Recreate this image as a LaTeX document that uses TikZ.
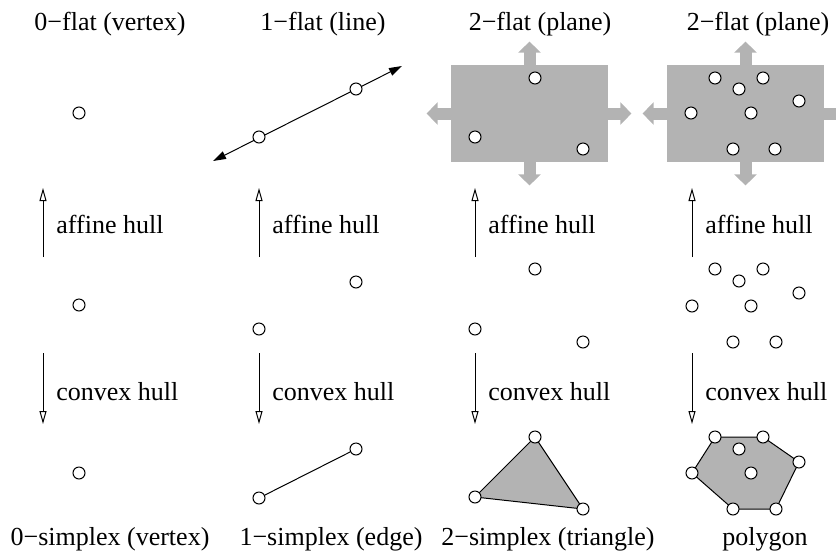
\documentclass[tikz,border=0pt]{standalone}
\usepackage{fontspec}
\setmainfont{Liberation Serif}
\usetikzlibrary{arrows.meta,backgrounds}
\definecolor{flatgray}{RGB}{179,179,179}
\begin{document}
\begin{tikzpicture}[x=0.5pt,y=-0.5pt]
        \tikzset{
        hull node/.style={circle,draw,fill=white,minimum size=6pt,inner sep=0,line width=0.5pt},
        hull label/.style={anchor=base west,inner sep=0,font=\fontsize{13}{15}\selectfont},
        title label/.style={anchor=base,inner sep=0,font=\fontsize{13}{15}\selectfont},
        hull arrow/.style={line width=0.5pt,-{Triangle[open,length=6.5pt,width=3.5pt]}},
        line arrow/.style={line width=0.5pt,{Triangle[length=6.5pt,width=4pt]}-{Triangle[length=6.5pt,width=4pt]}},
        flat node/.style={fill=flatgray,minimum width=78.5pt,minimum height=48.5pt,inner sep=0},
        flat arrow/.style={flatgray,line width=6pt,-{Triangle[length=5.5pt,width=11pt]}}
        }
        \useasboundingbox (0,0) rectangle (836,553);

        % titles
        \node[title label] (f0) at (110,30) {0−flat (vertex)};
        \node[title label] (f1) at (323,30) {1−flat (line)};
        \node[title label] (f2) at (540,30) {2−flat (plane)};
        \node[title label] (f3) at (758,30) {2−flat (plane)};
        \node[title label] (s0) at (110,545) {0−simplex (vertex)};
        \node[title label] (s1) at (331,545) {1−simplex (edge)};
        \node[title label] (s2) at (548,545) {2−simplex (triangle)};
        \node[title label] (s3) at (765,545) {polygon};

        % planes
        \node[flat node] (p3) at (529.5,113.5) {};
        \node[flat node] (p4) at (745.5,113.5) {};
        \draw[flat arrow] (p3.north) -- ++(0,-23);
        \draw[flat arrow] (p3.south) -- ++(0,23);
        \draw[flat arrow] (p3.west) -- ++(-24,0);
        \draw[flat arrow] (p3.east) -- ++(23,0);
        \draw[flat arrow] (p4.north) -- ++(0,-23);
        \draw[flat arrow] (p4.south) -- ++(0,23);
        \draw[flat arrow] (p4.west) -- ++(-24,0);
        \draw[flat arrow] (p4.east) -- ++(23,0);

        % line
        \coordinate (le1) at (213,161);
        \coordinate (le2) at (402,66);
        \draw[line arrow] (le1) -- (le2);

        % hull arrows
        \coordinate (ua1) at (43,257);  \coordinate (ub1) at (43,188);
        \coordinate (ua2) at (259,257); \coordinate (ub2) at (259,188);
        \coordinate (ua3) at (475,257); \coordinate (ub3) at (475,188);
        \coordinate (ua4) at (692,257); \coordinate (ub4) at (692,188);
        \coordinate (da1) at (43,353);  \coordinate (db1) at (43,424);
        \coordinate (da2) at (259,353); \coordinate (db2) at (259,424);
        \coordinate (da3) at (475,353); \coordinate (db3) at (475,424);
        \coordinate (da4) at (692,353); \coordinate (db4) at (692,424);
        \path[draw]
        (ua1) edge[hull arrow] (ub1)
        (ua2) edge[hull arrow] (ub2)
        (ua3) edge[hull arrow] (ub3)
        (ua4) edge[hull arrow] (ub4)
        (da1) edge[hull arrow] (db1)
        (da2) edge[hull arrow] (db2)
        (da3) edge[hull arrow] (db3)
        (da4) edge[hull arrow] (db4)
        ;
        \node[hull label] (ah1) at (56,233) {affine hull};
        \node[hull label] (ah2) at (272,233) {affine hull};
        \node[hull label] (ah3) at (488,233) {affine hull};
        \node[hull label] (ah4) at (705,233) {affine hull};
        \node[hull label] (ch1) at (56,400) {convex hull};
        \node[hull label] (ch2) at (272,400) {convex hull};
        \node[hull label] (ch3) at (488,400) {convex hull};
        \node[hull label] (ch4) at (705,400) {convex hull};

        % flats
        \node[hull node] (a1) at (79,113) {};
        \node[hull node] (b1) at (259,137) {};
        \node[hull node] (b2) at (356,89) {};
        \node[hull node] (c1) at (535,78) {};
        \node[hull node] (c2) at (475,137) {};
        \node[hull node] (c3) at (583,149) {};
        \node[hull node] (d1) at (715,78) {};
        \node[hull node] (d2) at (763,78) {};
        \node[hull node] (d3) at (739,89) {};
        \node[hull node] (d4) at (799,101) {};
        \node[hull node] (d5) at (691,113) {};
        \node[hull node] (d6) at (751,113) {};
        \node[hull node] (d7) at (733,149) {};
        \node[hull node] (d8) at (775,149) {};

        % point sets
        \node[hull node] (pa1) at (79,305) {};
        \node[hull node] (pb1) at (259,329) {};
        \node[hull node] (pb2) at (356,282) {};
        \node[hull node] (pc1) at (535,269) {};
        \node[hull node] (pc2) at (475,329) {};
        \node[hull node] (pc3) at (583,342) {};
        \node[hull node] (pd1) at (715,269) {};
        \node[hull node] (pd2) at (763,269) {};
        \node[hull node] (pd3) at (739,281) {};
        \node[hull node] (pd4) at (799,293) {};
        \node[hull node] (pd5) at (692,306) {};
        \node[hull node] (pd6) at (751,306) {};
        \node[hull node] (pd7) at (733,342) {};
        \node[hull node] (pd8) at (776,342) {};

        % simplices
        \node[hull node] (sa1) at (79,473) {};
        \node[hull node] (sb1) at (259,498) {};
        \node[hull node] (sb2) at (356,449) {};
        \node[hull node] (sc1) at (535,437) {};
        \node[hull node] (sc2) at (475,497) {};
        \node[hull node] (sc3) at (583,509) {};
        \node[hull node] (sd1) at (715,437) {};
        \node[hull node] (sd2) at (763,437) {};
        \node[hull node] (sd3) at (739,449) {};
        \node[hull node] (sd4) at (799,462) {};
        \node[hull node] (sd5) at (692,473) {};
        \node[hull node] (sd6) at (751,473) {};
        \node[hull node] (sd7) at (733,509) {};
        \node[hull node] (sd8) at (776,509) {};

        \draw[line width=0.5pt] (sb1) -- (sb2);
        \begin{scope}[on background layer]
        \filldraw[fill=flatgray,line width=0.5pt] (sc1.center) -- (sc3.center) -- (sc2.center) -- cycle;
        \filldraw[fill=flatgray,line width=0.5pt] (sd1.center) -- (sd2.center) -- (sd4.center)
          -- (sd8.center) -- (sd7.center) -- (sd5.center) -- cycle;
        \end{scope}
    \end{tikzpicture}
\end{document}
